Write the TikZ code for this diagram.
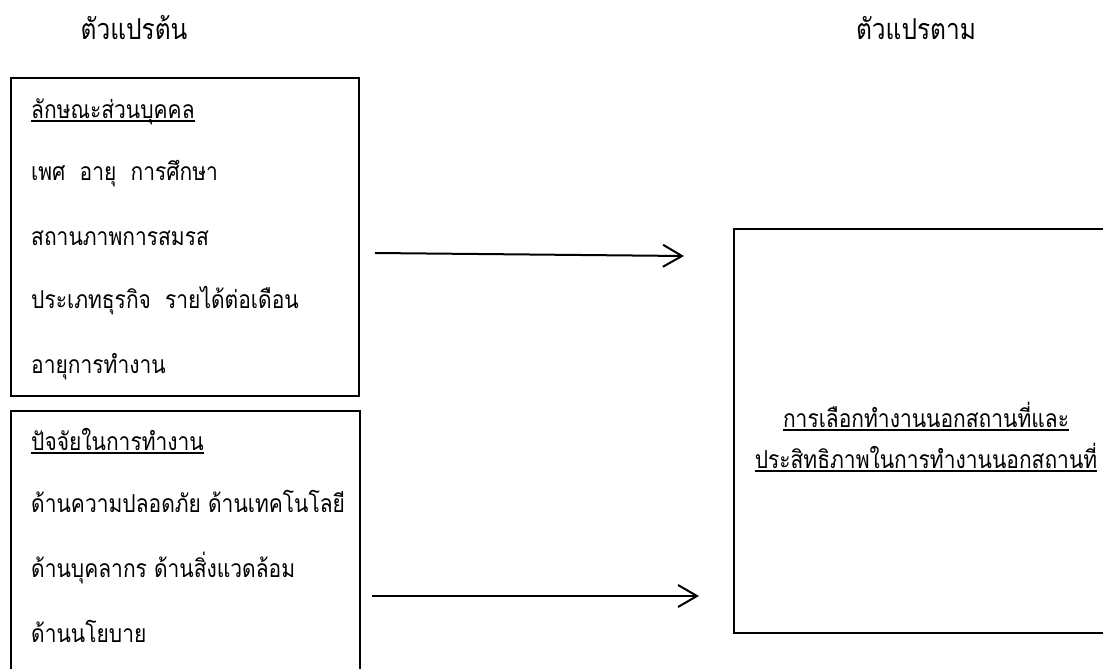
\documentclass[tikz,border=0pt]{standalone}
\usepackage{fontspec}
\newfontfamily\thaifont[Script=Thai,FakeStretch=0.85]{Loma}
\usetikzlibrary{arrows.meta}
\newcommand\myul[1]{\setbox0\hbox{#1}\rlap{\rule[-4pt]{\wd0}{1.8pt}}\box0}
\begin{document}
\begin{tikzpicture}[x=1pt,y=-1pt,
  every node/.style={inner sep=0pt, font=\thaifont\fontsize{24.7}{28}\selectfont},
  frame/.style={draw=black, line width=2pt},
  txt/.style={anchor=base west},
  ttl/.style={anchor=base},
  head/.style={anchor=base, font=\thaifont\fontsize{28.8}{32}\selectfont},
  conn/.style={draw=black, line width=2pt, -{Straight Barb[length=19pt,width=22pt,line width=2pt]}}]
\useasboundingbox (0,0) rectangle (1103,669);
\clip (0,0) rectangle (1103,669);
% titles
\node[head] (tleft) at (134,40) {ตัวแปรต้น};
\node[head] (tright) at (916,40) {ตัวแปรตาม};
% boxes
\node[frame, anchor=north west, minimum width=348pt, minimum height=318pt] (box1) at (10,77) {};
\node[frame, anchor=north west, minimum width=349pt, minimum height=300pt] (box2) at (10,410) {};
\node[frame, anchor=north west, minimum width=420pt, minimum height=404pt] (box3) at (733,228) {};
% box 1 text
\node[txt] (a1) at (31,118) {\myul{ลักษณะส่วนบุคคล}};
\node[txt] (a2) at (31,180) {เพศ\ \ อายุ\ \ การศึกษา};
\node[txt] (a3) at (31,245) {สถานภาพการสมรส};
\node[txt] (a4) at (31,308) {ประเภทธุรกิจ\ \ รายได้ต่อเดือน};
\node[txt] (a5) at (31,373) {อายุการทำงาน};
% box 2 text
\node[txt] (b1) at (31,450) {\myul{ปัจจัยในการทำงาน}};
\node[txt] (b2) at (31,512) {ด้านความปลอดภัย ด้านเทคโนโลยี};
\node[txt] (b3) at (31,577) {ด้านบุคลากร ด้านสิ่งแวดล้อม};
\node[txt] (b4) at (31,642) {ด้านนโยบาย};
% right text
\node[ttl] (c1) at (926,427) {\myul{การเลือกทำงานนอกสถานที่และ}};
\node[ttl] (c2) at (926,468) {\myul{ประสิทธิภาพในการทำงานนอกสถานที่}};
% arrows
\coordinate (s1) at (375,253);
\coordinate (e1) at (684,256);
\coordinate (s2) at (372,596);
\coordinate (e2) at (699,596);
\draw[conn] (s1) -- (e1);
\draw[conn] (s2) -- (e2);
\end{tikzpicture}
\end{document}
